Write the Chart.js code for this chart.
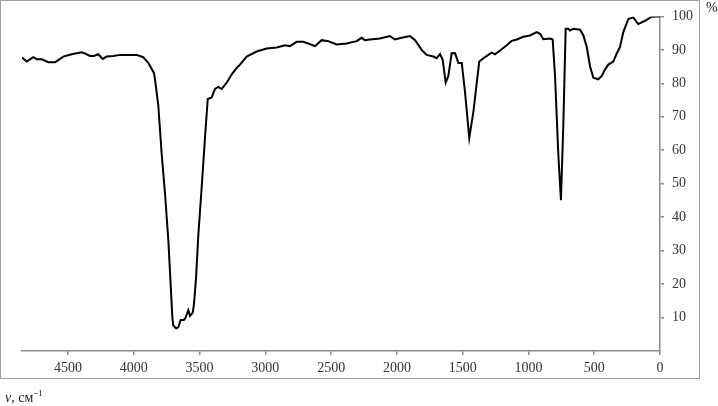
<!DOCTYPE html>
<html>
<head>
<meta charset="utf-8">
<script src="https://cdn.jsdelivr.net/npm/chart.js@4/dist/chart.umd.min.js"></script>
<style>
	body { margin: 0; background: #fff; }
	#wrap { position: relative; width: 718px; height: 406px; }
	#spectrum { position: absolute; left: 0; top: 0; }
	.lbl { position: absolute; font-family: "Liberation Serif", serif; font-size: 14px; color: #222; white-space: nowrap; }
	.lbl sup { font-size: 9px; }
</style>
</head>
<body>
<div id="wrap">
	<canvas id="spectrum" width="718" height="406"></canvas>
	<span class="lbl" style="left:706px; top:0px;">%</span>
	<span class="lbl" style="left:5px; top:388px;"><i>ν</i>, см<sup>−1</sup></span>
</div>
<script>
// Волновые числа (см-1) и пропускание (%)
const wavenumbers = [
	4850, 4814, 4764, 4738, 4700, 4650, 4599, 4536, 4472, 4396,
	4371, 4333, 4303, 4270, 4237, 4206, 4156, 4105, 4029, 3978,
	3928, 3890, 3847, 3839, 3814, 3788, 3763, 3738, 3720, 3707,
	3700, 3679, 3662, 3644, 3619, 3606, 3586, 3573, 3552, 3543,
	3527, 3510, 3484, 3459, 3438, 3408, 3383, 3358, 3332, 3294,
	3256, 3218, 3193, 3142, 3066, 2990, 2914, 2851, 2813, 2762,
	2712, 2674, 2623, 2572, 2522, 2458, 2382, 2306, 2268, 2243,
	2205, 2129, 2053, 2015, 1964, 1900, 1862, 1812, 1774, 1723,
	1698, 1672, 1652, 1629, 1609, 1584, 1558, 1533, 1507, 1482,
	1450, 1419, 1374, 1343, 1305, 1279, 1254, 1216, 1165, 1127,
	1089, 1039, 988, 937, 912, 887, 836, 816, 798, 773,
	753, 735, 717, 697, 684, 659, 608, 583, 557, 532,
	507, 469, 443, 418, 393, 355, 329, 304, 279, 241,
	203, 165, 114, 63, 13, 0
];
const transmittance = [
	87.7, 86.5, 87.8, 87.2, 87.2, 86.3, 86.3, 88.0, 88.7, 89.3,
	88.9, 88.2, 88.2, 88.7, 87.3, 88.0, 88.2, 88.5, 88.5, 88.5,
	87.8, 86.1, 83.1, 81.2, 73.4, 58.8, 47.1, 33.4, 19.9, 10.0,
	7.6, 6.8, 7.1, 9.3, 9.3, 10.0, 12.2, 10.5, 11.5, 13.9,
	21.7, 34.4, 49.0, 63.7, 75.3, 75.8, 78.3, 78.9, 78.3, 80.2,
	82.7, 84.6, 85.6, 88.0, 89.5, 90.4, 90.7, 91.4, 91.1, 92.4,
	92.4, 91.9, 91.1, 92.9, 92.6, 91.6, 91.9, 92.6, 93.6, 92.9,
	93.1, 93.4, 94.1, 93.1, 93.6, 94.1, 92.9, 90.0, 88.5, 88.0,
	87.5, 88.7, 87.0, 80.2, 82.2, 89.0, 89.0, 86.1, 86.1, 77.3,
	63.7, 71.4, 86.5, 87.5, 88.5, 89.2, 88.7, 89.8, 91.4, 92.7,
	93.1, 93.9, 94.3, 95.3, 94.8, 93.2, 93.4, 93.1, 82.2, 58.8,
	45.1, 67.5, 96.3, 96.3, 95.8, 96.3, 96.0, 94.4, 90.9, 85.1,
	81.7, 81.2, 82.2, 84.1, 85.6, 86.5, 88.9, 90.9, 95.3, 99.2,
	99.7, 97.7, 98.7, 99.9, 100.0, 100.0
];
const xTicks = [4500, 4000, 3500, 3000, 2500, 2000, 1500, 1000, 500, 0];
const yTicks = [10, 20, 30, 40, 50, 60, 70, 80, 90, 100];

const axisColor = "#8c8c8c";
const tickFont = { family: "'Liberation Serif', serif", size: 14 };

// рамка области диаграммы
const framePlugin = {
	id: "frame",
	beforeDraw(chart) {
		const c = chart.ctx;
		c.save();
		c.strokeStyle = "#a0a0a0";
		c.lineWidth = 1;
		c.strokeRect(0.5, 0.5, 699, 378);
		c.restore();
	},
};

const ctx = document.getElementById("spectrum").getContext("2d");
const spectrumChart = new Chart(ctx, {
	type: "line",
	data: {
		datasets: [
			{
				data: wavenumbers.map((v, i) => ({ x: v, y: transmittance[i] })),
				borderColor: "#000",
				borderWidth: 2,
				pointRadius: 0,
				tension: 0,
				fill: false,
			},
		],
	},
	plugins: [framePlugin],
	options: {
		responsive: false,
		animation: false,
		layout: { padding: { left: 22, right: 0, top: 9, bottom: 0 } },
		plugins: { legend: { display: false }, tooltip: { enabled: false } },
		scales: {
			x: {
				type: "linear",
				reverse: true,
				min: 0,
				max: 4850,
				afterBuildTicks: (s) => { s.ticks = xTicks.map((v) => ({ value: v })); },
				afterFit: (s) => { s.height = 55; },
				ticks: {
					font: tickFont, color: "#333", padding: 5, maxRotation: 0, autoSkip: false,
					callback: (v) => String(v),
				},
				grid: { drawOnChartArea: false, tickLength: 4, color: axisColor, lineWidth: 1.5 },
				border: { color: axisColor, width: 1.5 },
			},
			y: {
				position: "right",
				min: 0,
				max: 100,
				afterBuildTicks: (s) => { s.ticks = yTicks.map((v) => ({ value: v })); },
				afterFit: (s) => { s.width = 58; },
				ticks: { font: tickFont, color: "#333", padding: 8, callback: (v) => String(v) },
				grid: { drawOnChartArea: false, tickLength: 4, color: axisColor, lineWidth: 1.5 },
				border: { color: axisColor, width: 1.5 },
			},
		},
	},
});
</script>
</body>
</html>
